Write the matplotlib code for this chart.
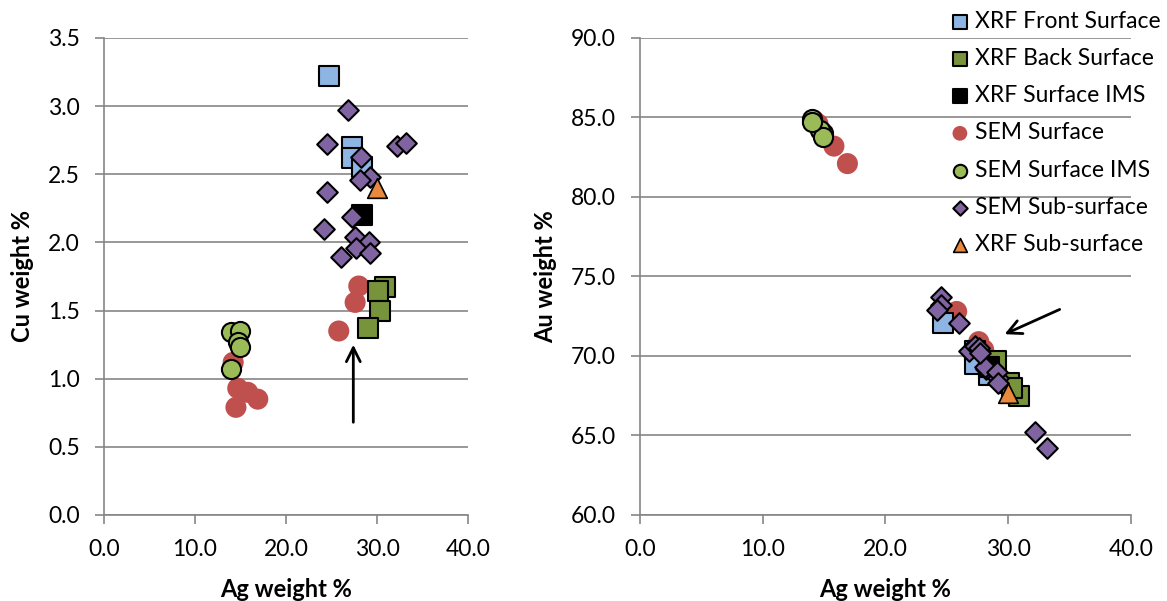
import matplotlib.pyplot as plt

plt.rcParams['font.family'] = ['Lato', 'DejaVu Sans']

# XRF Front Surface
front_ag = [24.7, 27.3, 27.3, 28.4]
front_cu = [3.22, 2.70, 2.62, 2.55]
front_au = [72.1, 70.3, 69.5, 68.8]

# XRF Back Surface
back_ag = [30.9, 30.1, 30.3, 29.0]
back_cu = [1.67, 1.64, 1.50, 1.37]
back_au = [67.5, 68.3, 68.0, 69.7]

# XRF Surface IMS
ims_ag = [28.4]
ims_cu = [2.20]
ims_au = [69.3]

# SEM Surface
sem_ag = [28.0, 27.6, 25.8, 14.2, 14.7, 15.8, 16.9, 14.5]
sem_cu = [1.68, 1.56, 1.35, 1.12, 0.93, 0.90, 0.85, 0.79]
sem_au = [70.4, 70.9, 72.8, 84.8, 84.2, 83.2, 82.1, 84.6]

# SEM Surface IMS
semims_ag = [14.0, 14.9, 14.7, 14.9, 14.0]
semims_cu = [1.34, 1.35, 1.27, 1.23, 1.07]
semims_au = [84.9, 84.0, 84.2, 83.8, 84.7]

# SEM Sub-surface
sub_ag = [26.8, 24.5, 32.2, 33.2, 28.2, 29.2, 28.1, 24.5, 27.3, 24.2, 27.6, 29.1, 27.7, 29.2, 26.0]
sub_cu = [2.97, 2.72, 2.71, 2.73, 2.63, 2.48, 2.46, 2.37, 2.19, 2.10, 2.04, 2.00, 1.96, 1.92, 1.89]
sub_au = [70.3, 73.7, 65.2, 64.2, 69.2, 68.6, 69.3, 73.2, 70.6, 72.9, 70.5, 69.0, 70.2, 68.3, 72.1]

# XRF Sub-surface
xsub_ag = [30.0]
xsub_cu = [2.40]
xsub_au = [67.7]

grid_col = '#868686'
fs = 16.5

fig = plt.figure(figsize=(11.67, 6.01), dpi=100)
ax1 = fig.add_axes([0.0891, 0.1431, 0.3119, 0.7937])
ax2 = fig.add_axes([0.5484, 0.1431, 0.4207, 0.7937])


def draw(ax, ys):
    ax.scatter(sem_ag, ys[3], s=230, c='#C0504D', edgecolors='none', zorder=3, label='SEM Surface')
    ax.scatter(front_ag, ys[0], s=190, marker='s', c='#8DB4E2', edgecolors='black', linewidths=1.5, zorder=4, label='XRF Front Surface')
    ax.scatter(back_ag, ys[1], s=190, marker='s', c='#77933C', edgecolors='black', linewidths=1.5, zorder=4, label='XRF Back Surface')
    ax.scatter(ims_ag, ys[2], s=190, marker='s', c='black', edgecolors='black', linewidths=1.5, zorder=4, label='XRF Surface IMS')
    ax.scatter(semims_ag, ys[4], s=190, c='#9BBB59', edgecolors='black', linewidths=1.5, zorder=5, label='SEM Surface IMS')
    ax.scatter(sub_ag, ys[5], s=110, marker='D', c='#8064A2', edgecolors='black', linewidths=1.5, zorder=6, label='SEM Sub-surface')
    ax.scatter(xsub_ag, ys[6], s=200, marker='^', c='#E8893E', edgecolors='black', linewidths=1.2, zorder=7, label='XRF Sub-surface')
    ax.set_xlim(0, 40)
    ax.set_xticks([0, 10, 20, 30, 40])
    ax.set_xticklabels(['0.0', '10.0', '20.0', '30.0', '40.0'])
    ax.grid(axis='y', color=grid_col, linewidth=1.2)
    ax.set_axisbelow(True)
    for s in ['top', 'right']:
        ax.spines[s].set_visible(False)
    for s in ['left', 'bottom']:
        ax.spines[s].set_color(grid_col)
        ax.spines[s].set_linewidth(1.2)
    ax.tick_params(colors=grid_col, labelcolor='black', labelsize=fs, length=6.5, width=1.2, pad=11)
    ax.set_xlabel('Ag weight %', fontsize=17, fontweight='bold', labelpad=13)


draw(ax1, [front_cu, back_cu, ims_cu, sem_cu, semims_cu, sub_cu, xsub_cu])
ax1.set_ylim(0, 3.5)
ax1.set_yticks([0, 0.5, 1.0, 1.5, 2.0, 2.5, 3.0, 3.5])
ax1.set_yticklabels(['0.0', '0.5', '1.0', '1.5', '2.0', '2.5', '3.0', '3.5'])
ax1.set_ylabel('Cu weight %', fontsize=17, fontweight='bold', labelpad=10)
ax1.annotate('', xy=(27.4, 1.27), xytext=(27.4, 0.66),
             arrowprops=dict(arrowstyle='->', color='black', lw=2, mutation_scale=25))

draw(ax2, [front_au, back_au, ims_au, sem_au, semims_au, sub_au, xsub_au])
ax2.set_ylim(60, 90)
ax2.set_yticks([60, 65, 70, 75, 80, 85, 90])
ax2.set_yticklabels(['60.0', '65.0', '70.0', '75.0', '80.0', '85.0', '90.0'])
ax2.set_ylabel('Au weight %', fontsize=17, fontweight='bold', labelpad=10)
ax2.annotate('', xy=(29.5, 71.3), xytext=(34.4, 73.0),
             arrowprops=dict(arrowstyle='->', color='black', lw=2, mutation_scale=25))

handles, labels = ax2.get_legend_handles_labels()
order = ['XRF Front Surface', 'XRF Back Surface', 'XRF Surface IMS', 'SEM Surface',
         'SEM Surface IMS', 'SEM Sub-surface', 'XRF Sub-surface']
hmap = dict(zip(labels, handles))
leg = fig.legend([hmap[k] for k in order], order, loc='upper left', bbox_to_anchor=(0.797, 1.013),
                 frameon=False, fontsize=fs, markerscale=0.7, handletextpad=0.15,
                 labelspacing=0.71, handlelength=1.0, borderpad=0.3)

fig.savefig('out.png', dpi=100)
